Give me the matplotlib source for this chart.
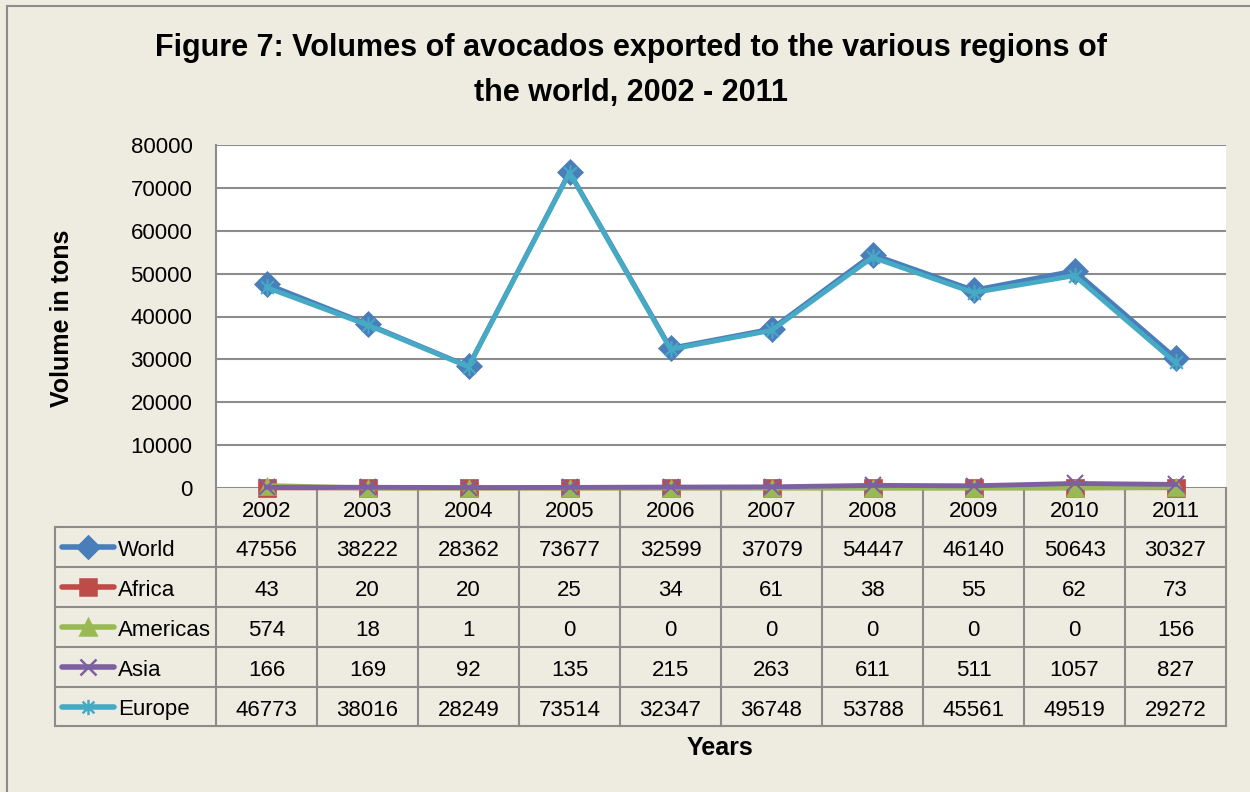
import matplotlib
matplotlib.use("Agg")
import matplotlib.pyplot as plt
from matplotlib.lines import Line2D
from matplotlib.path import Path
from matplotlib.transforms import blended_transform_factory

BG = "#eeebe0"
GRID = "#8c8c8c"
plt.rcParams["font.family"] = ["Liberation Sans Narrow", "Liberation Sans", "DejaVu Sans"]

years = ["2002", "2003", "2004", "2005", "2006", "2007", "2008", "2009", "2010", "2011"]
world = [47556, 38222, 28362, 73677, 32599, 37079, 54447, 46140, 50643, 30327]
africa = [43, 20, 20, 25, 34, 61, 38, 55, 62, 73]
americas = [574, 18, 1, 0, 0, 0, 0, 0, 0, 156]
asia = [166, 169, 92, 135, 215, 263, 611, 511, 1057, 827]
europe = [46773, 38016, 28249, 73514, 32347, 36748, 53788, 45561, 49519, 29272]

# Excel-style asterisk: an x with a vertical bar
STAR = Path([(-1, -1), (1, 1), (-1, 1), (1, -1), (0, -1.3), (0, 1.3)],
            [Path.MOVETO, Path.LINETO, Path.MOVETO, Path.LINETO, Path.MOVETO, Path.LINETO])

series = [
    ("World", world, "#4a7ebb", "D"),
    ("Africa", africa, "#be4b48", "s"),
    ("Americas", americas, "#98b954", "^"),
    ("Asia", asia, "#7d60a0", "x"),
    ("Europe", europe, "#46aac5", STAR),
]

W, H = 1250, 792
fig = plt.figure(figsize=(W / 100, H / 100), dpi=100, facecolor=BG)


def fy(py):
    return 1 - py / H


# outer frame
fig.add_artist(Line2D([7 / W, 7 / W], [fy(6), 0], color=GRID, lw=1.5))
fig.add_artist(Line2D([7 / W, 1], [fy(6), fy(6)], color=GRID, lw=1.5))

ax = fig.add_axes([216 / W, fy(488), 1010 / W, 343 / H])
ax.set_facecolor("white")
x = list(range(len(years)))
for name, vals, col, mk in series:
    stroke = mk == "x" or mk is STAR
    ax.plot(x, vals, color=col, lw=3.5, marker=mk, markersize=12 if stroke else 13,
            markeredgewidth=1.5 if stroke else 0.5,
            markeredgecolor=col, zorder=3, clip_on=False)
ax.set_xlim(-0.5, len(years) - 0.5)
ax.set_ylim(0, 80000)
ax.set_yticks(range(0, 80001, 10000))
ax.set_yticklabels([str(v) for v in range(0, 80001, 10000)])
ax.tick_params(axis="y", length=0, labelsize=16, pad=17)
ax.set_xticks([])
ax.grid(axis="y", color=GRID, lw=1.5)
ax.set_axisbelow(True)
for s in ax.spines.values():
    s.set_visible(False)
ax.spines["left"].set_visible(True)
ax.spines["left"].set_color(GRID)
ax.spines["left"].set_linewidth(1.5)

fig.text(62 / W, fy(318), "Volume in tons", rotation=90, ha="center", va="center",
         fontsize=18, fontweight="bold")
fig.text(631 / W, fy(48), "Figure 7: Volumes of avocados exported to the various regions of",
         ha="center", va="center", fontsize=22, fontweight="bold")
fig.text(631 / W, fy(93), "the world, 2002 - 2011",
         ha="center", va="center", fontsize=22, fontweight="bold")

# data table
tr = blended_transform_factory(ax.transData, fig.transFigure)
row_tops = [488, 527, 567, 607, 647, 687, 726]
n = len(years)
tkw = dict(color=GRID, lw=1.5, clip_on=False)
ax.add_line(Line2D([-0.5, n - 0.5], [fy(527), fy(527)], transform=tr, **tkw))
for i in range(n + 1):
    ax.add_line(Line2D([i - 0.5, i - 0.5], [fy(488), fy(726)], transform=tr, **tkw))
for i, yr in enumerate(years):
    ax.text(i, fy(509), yr, transform=tr, ha="center", va="center_baseline", fontsize=16)
left = 55 / W
for r in range(len(series) + 1):
    yy = fy(row_tops[r + 1])
    fig.add_artist(Line2D([left, 1226 / W], [yy, yy], color=GRID, lw=1.5))
fig.add_artist(Line2D([left, left], [fy(527), fy(726)], color=GRID, lw=1.5))
for r, (name, vals, col, mk) in enumerate(series):
    ym = (row_tops[r + 1] + row_tops[r + 2]) / 2
    yc = fy(ym)
    fig.add_artist(Line2D([62 / W, 114 / W], [yc, yc], color=col, lw=4,
                          solid_capstyle="round"))
    fig.add_artist(Line2D([88 / W], [yc], color=col, marker=mk, markersize=11,
                          markeredgewidth=1.8, markeredgecolor=col))
    fig.text(118 / W, fy(ym + 1), name, ha="left", va="center_baseline", fontsize=16)
    for i, v in enumerate(vals):
        ax.text(i, fy(ym + 1), str(v), transform=tr, ha="center", va="center_baseline",
                fontsize=16)

fig.text(720 / W, fy(748), "Years", ha="center", va="center", fontsize=18, fontweight="bold")

fig.savefig("out.png", dpi=100, facecolor=BG)
